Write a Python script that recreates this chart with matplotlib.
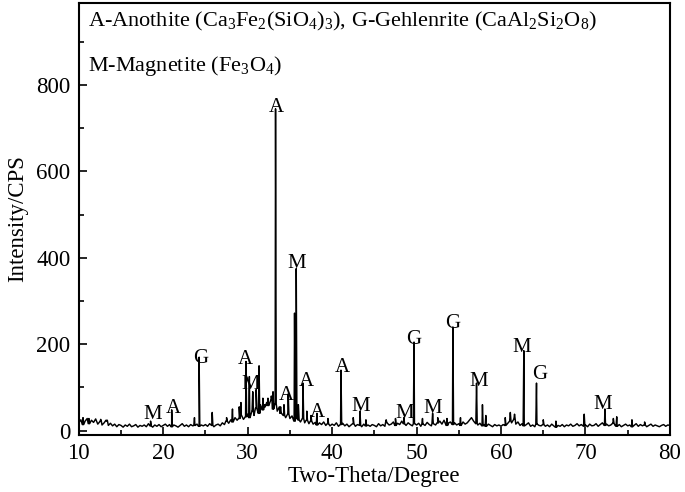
import numpy as np
import matplotlib
matplotlib.use("Agg")
import matplotlib.pyplot as plt
from matplotlib.ticker import MultipleLocator

plt.rcParams['font.family'] = ['Liberation Serif', 'DejaVu Serif']
plt.rcParams['mathtext.fontset'] = 'custom'
plt.rcParams['mathtext.rm'] = 'Liberation Serif'
plt.rcParams['mathtext.it'] = 'Liberation Serif:italic'

# Background intensity every 0.25 degree, 10..80
bg_start = 10.0
bg_step = 0.25
background = [
    18, 25, 14, 22, 28, 16, 24, 19, 27, 15, 21, 13, 18, 24, 12, 17, 11, 15, 9, 14,
    12, 8, 13, 10, 15, 9, 11, 14, 8, 12, 10, 13, 9, 16, 11, 8, 13, 10, 14, 9,
    12, 15, 10, 14, 9, 13, 11, 8, 12, 16, 10, 13, 9, 14, 11, 12, 15, 10, 13, 11,
    14, 10, 16, 12, 9, 13, 15, 11, 18, 14, 22, 17, 25, 20, 30, 24, 28, 35, 26, 32,
    38, 30, 45, 35, 52, 40, 60, 48, 55, 65, 58, 70, 50, 62, 45, 55, 40, 35, 30, 38,
    28, 34, 22, 30, 25, 20, 28, 18, 24, 16, 22, 15, 19, 13, 18, 14, 20, 12, 16, 11,
    15, 12, 18, 10, 14, 17, 11, 15, 9, 13, 16, 10, 14, 12, 9, 15, 11, 13, 10, 14,
    12, 9, 16, 11, 14, 10, 18, 13, 15, 20, 12, 17, 14, 22, 16, 12, 18, 14, 11, 16,
    13, 17, 10, 15, 12, 19, 14, 11, 16, 13, 18, 22, 15, 24, 12, 17, 20, 14, 18, 13,
    16, 12, 20, 15, 18, 24, 30, 22, 16, 13, 17, 11, 14, 10, 15, 12, 9, 14, 11, 13,
    10, 14, 12, 16, 22, 18, 26, 15, 20, 12, 16, 11, 14, 18, 10, 13, 9, 15, 12, 11,
    14, 10, 13, 9, 15, 11, 8, 12, 10, 14, 9, 13, 11, 15, 10, 12, 16, 11, 14, 10,
    13, 9, 15, 11, 12, 16, 10, 14, 18, 12, 15, 11, 13, 17, 12, 10, 14, 9, 12, 15,
    11, 13, 9, 12, 16, 10, 14, 11, 13, 9, 12, 15, 10, 13, 11, 9, 12, 14, 10, 13,
    12,
]

# Diffraction peaks: position (2-theta) and peak intensity
peak_pos = [10.5, 11.2, 12.6, 13.3, 18.5, 21.0, 23.7, 24.25, 25.8, 27.5, 28.2,
            29.0, 29.2, 29.8, 30.2, 30.6, 31.0, 31.35, 31.8, 32.0, 32.4, 32.8,
            33.0, 33.3, 33.9, 34.3, 34.8, 35.55, 35.75, 36.0, 36.55, 37.0,
            37.5, 38.2, 39.5, 41.05, 42.5, 43.3, 44.0, 46.4, 47.5, 48.5, 49.7,
            50.7, 51.9, 52.5, 53.6, 54.3, 55.2, 57.1, 57.8, 58.2, 60.5, 61.1,
            61.6, 62.7, 64.2, 65.0, 66.5, 69.85, 72.3, 73.3, 73.7, 75.5, 77.0]
peak_int = [30, 28, 26, 22, 22, 48, 30, 170, 42, 30, 50,
            55, 65, 160, 125, 90, 95, 150, 75, 60, 75, 80,
            90, 745, 55, 60, 85, 272, 375, 60, 110, 45,
            35, 40, 28, 140, 30, 45, 25, 25, 28, 30, 205,
            28, 40, 30, 28, 240, 30, 110, 60, 35, 30, 42,
            38, 185, 110, 25, 22, 38, 50, 28, 32, 25, 20]

# Phase labels: letter, 2-theta, intensity
lab_txt = ['M', 'A', 'G', 'A', 'M', 'A', 'M', 'A', 'A', 'A', 'A', 'M',
           'M', 'G', 'M', 'G', 'M', 'M', 'G', 'M']
lab_x = [18.7, 21.2, 24.4, 29.75, 30.35, 33.4, 35.8, 34.6, 36.9, 38.3, 41.2, 43.4,
         48.6, 49.6, 51.9, 54.3, 57.3, 62.5, 64.6, 72.0]
lab_y = [37, 51, 167, 165, 107, 749, 388, 81, 114, 42, 147, 56,
         40, 212, 51, 249, 114, 193, 130, 60]

# Build trace
bg_x = bg_start + bg_step * np.arange(len(background))
xs = list(bg_x)
ys = list(background)
for p, h in zip(peak_pos, peak_int):
    i = int(round((p - bg_start) / bg_step))
    b = background[min(i, len(background) - 1)]
    xs += [p - 0.08, p, p + 0.08]
    ys += [b, h, b]
order = np.argsort(xs, kind='stable')
xs = np.array(xs)[order]
ys = np.array(ys)[order]

fig = plt.figure(figsize=(6.85, 4.92), dpi=100)
ax = fig.add_axes([0.115, 0.116, 0.863, 0.878])
ax.plot(xs, ys, color='black', lw=1.05)

for t, x, y in zip(lab_txt, lab_x, lab_y):
    ax.text(x, y, t, ha='center', va='center', fontsize=15)

ax.set_xlim(10, 80)
ax.set_ylim(-10, 990)
ax.xaxis.set_major_locator(MultipleLocator(10))
ax.xaxis.set_minor_locator(MultipleLocator(5))
ax.yaxis.set_major_locator(MultipleLocator(200))
ax.yaxis.set_minor_locator(MultipleLocator(100))
ax.tick_params(which='both', direction='in', top=False, right=False,
               labelsize=16.5, width=1.2)
ax.tick_params(which='major', length=6, pad=6)
ax.tick_params(which='minor', length=3.5)
for s in ax.spines.values():
    s.set_linewidth(1.5)

ax.set_xlabel('Two-Theta/Degree', fontsize=16.5, labelpad=1)
ax.set_ylabel('Intensity/CPS', fontsize=16.5, labelpad=6)

ax.text(0.015, 0.956,
        r'A-Anothite (Ca$_3$Fe$_2$(SiO$_4$)$_3$), G-Gehlenrite (CaAl$_2$Si$_2$O$_8$)',
        transform=ax.transAxes, ha='left', va='center', fontsize=16)
ax.text(0.015, 0.854, r'M-Magnetite (Fe$_3$O$_4$)',
        transform=ax.transAxes, ha='left', va='center', fontsize=16)

fig.savefig('out.png', dpi=100)
